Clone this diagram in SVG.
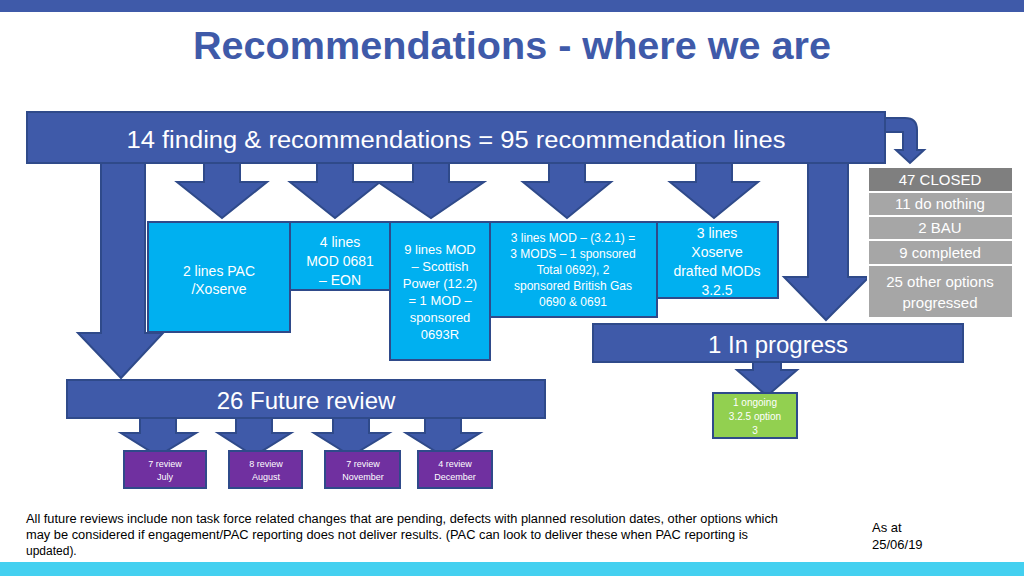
<svg xmlns="http://www.w3.org/2000/svg" width="1024" height="576" viewBox="0 0 1024 576">
<defs><style>
text{font-family:"Liberation Sans",Arial,sans-serif;fill:#fff;text-anchor:middle}
.b{fill:#3f5aa9;stroke:#2f4a8a;stroke-width:2}
.c{fill:#00b0f0;stroke:#2f4a8a;stroke-width:2}
.g{fill:#a6a6a6;stroke:#fff;stroke-width:2}
.p{fill:#7030a0;stroke:#2f4a8a;stroke-width:2}
.s{font-size:13px}
.f{fill:#000;text-anchor:start}
</style></defs>
<rect width="1024" height="576" fill="#fff"/>
<rect width="1024" height="12" fill="#3f5aa9"/>
<rect y="562" width="1024" height="14" fill="#44d0f0"/>
<text x="512" y="59" textLength="638" lengthAdjust="spacingAndGlyphs" style="font-size:38px;font-weight:bold;fill:#3f5aa9">Recommendations - where we are</text>
<g id="connectors">
<path class="b" d="M101 163H145V333H163L121 378L78 333H101Z"/>
<path class="b" d="M204 163H240V182H267L222 218L177 182H204Z"/>
<path class="b" d="M317 163H353V182H380L335 218L290 182H317Z"/>
<path class="b" d="M413 163H449V182H484L431 218L378 182H413Z"/>
<path class="b" d="M549 163H585V182H611L567 218L523 182H549Z"/>
<path class="b" d="M696 163H732V182H758L714 218L670 182H696Z"/>
<path class="b" d="M808 163H848V277H869L826 320L784 277H808Z"/>
<path class="b" d="M885 118H905Q917 118 917 130V150H924L910 163L896 150H903V132H885Z"/>
<path class="b" d="M753 362H781V370H797L767 396L737 370H753Z"/>
<path class="b" d="M140 418H176V433H196L158 456L121 433H140Z"/>
<path class="b" d="M236 418H272V433H291L254 456L218 433H236Z"/>
<path class="b" d="M333 418H369V433H389L351 456L314 433H333Z"/>
<path class="b" d="M425 418H461V433H480L443 456L406 433H425Z"/>
</g>
<g id="main"><rect class="b" x="27" y="112" width="858" height="51"/><text x="456" y="148" textLength="659" lengthAdjust="spacingAndGlyphs" style="font-size:23px">14 finding &amp; recommendations = 95 recommendation lines</text></g>
<g id="n1"><rect class="c" x="148" y="222" width="142" height="110"/><text x="219" y="276" style="font-size:14px">2 lines PAC</text><text x="219" y="294" style="font-size:14px">/Xoserve</text></g>
<g id="n2"><rect class="c" x="290" y="222" width="100" height="68"/><text x="340" y="247" style="font-size:14px">4 lines</text><text x="340" y="266" style="font-size:14px">MOD 0681</text><text x="340" y="285" style="font-size:14px">– EON</text></g>
<g id="n3"><rect class="c" x="390" y="222" width="100" height="138"/><text x="440" y="254" class="s">9 lines MOD</text><text x="440" y="271" class="s">– Scottish</text><text x="440" y="288" class="s">Power (12.2)</text><text x="440" y="305" class="s">= 1 MOD –</text><text x="440" y="322" class="s">sponsored</text><text x="440" y="339" class="s">0693R</text></g>
<g id="n4"><rect class="c" x="490" y="222" width="167" height="95"/><text x="573" y="242" style="font-size:12px">3 lines MOD –  (3.2.1) =</text><text x="573" y="258" style="font-size:12px">3 MODS – 1 sponsored</text><text x="573" y="274" style="font-size:12px">Total  0692), 2</text><text x="573" y="290" style="font-size:12px">sponsored British Gas</text><text x="573" y="306" style="font-size:12px">0690 &amp; 0691</text></g>
<g id="n5"><rect class="c" x="657" y="222" width="121" height="76"/><text x="717" y="238" style="font-size:14px">3 lines</text><text x="717" y="257" style="font-size:14px">Xoserve</text><text x="717" y="276" style="font-size:14px">drafted MODs</text><text x="717" y="295" style="font-size:14px">3.2.5</text></g>
<g id="closed"><rect x="868" y="167" width="145" height="25" fill="#7f7f7f" stroke="#fff" stroke-width="2"/><text x="940" y="185" style="font-size:15px">47 CLOSED</text></g>
<g id="g1"><rect class="g" x="868" y="192" width="145" height="24"/><text x="940" y="209" style="font-size:15px">11 do nothing</text></g>
<g id="g2"><rect class="g" x="868" y="216" width="145" height="24"/><text x="940" y="233" style="font-size:15px">2 BAU</text></g>
<g id="g3"><rect class="g" x="868" y="240" width="145" height="25"/><text x="940" y="258" style="font-size:15px">9 completed</text></g>
<g id="g4"><rect class="g" x="868" y="265" width="145" height="53"/><text x="940" y="287" style="font-size:15px">25 other options</text><text x="940" y="308" style="font-size:15px">progressed</text></g>
<g id="prog"><rect class="b" x="593" y="324" width="370" height="38"/><text x="778" y="353" style="font-size:24px">1 In progress</text></g>
<g id="ongoing"><rect x="713" y="393" width="84" height="45" fill="#92d050" stroke="#2f4a8a" stroke-width="2"/><text x="755" y="406" style="font-size:10px">1 ongoing</text><text x="755" y="420" style="font-size:10px">3.2.5 option</text><text x="755" y="434" style="font-size:10px">3</text></g>
<g id="future"><rect class="b" x="67" y="380" width="478" height="38"/><text x="306" y="409" style="font-size:24px">26 Future review</text></g>
<g id="r1"><rect class="p" x="124" y="451" width="82" height="37"/><text x="165" y="467" style="font-size:9px">7 review</text><text x="165" y="480" style="font-size:9px">July</text></g>
<g id="r2"><rect class="p" x="229" y="451" width="73" height="37"/><text x="266" y="467" style="font-size:9px">8 review</text><text x="266" y="480" style="font-size:9px">August</text></g>
<g id="r3"><rect class="p" x="325" y="451" width="75" height="37"/><text x="363" y="467" style="font-size:9px">7 review</text><text x="363" y="480" style="font-size:9px">November</text></g>
<g id="r4"><rect class="p" x="418" y="451" width="74" height="37"/><text x="455" y="467" style="font-size:9px">4 review</text><text x="455" y="480" style="font-size:9px">December</text></g>
<g id="notes">
<text x="26" y="523" class="f" textLength="752" lengthAdjust="spacingAndGlyphs" style="font-size:12px">All future reviews include non task force related changes that are pending, defects with planned resolution dates, other options which</text>
<text x="26" y="539" class="f" textLength="722" lengthAdjust="spacingAndGlyphs" style="font-size:12px">may be considered if engagement/PAC reporting does not deliver results. (PAC can look to deliver these when PAC reporting is</text>
<text x="26" y="555" class="f" style="font-size:12px">updated).</text>
<text x="872" y="532" class="f" style="font-size:13px">As at</text>
<text x="872" y="549" class="f" style="font-size:13px">25/06/19</text>
</g>
</svg>
